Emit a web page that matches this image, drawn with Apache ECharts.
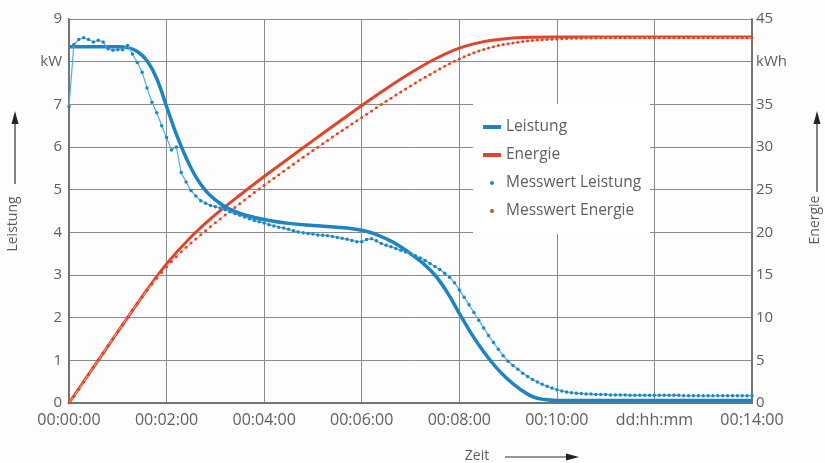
<!DOCTYPE html>
<html>
<head>
<meta charset="utf-8">
<script src="https://cdn.jsdelivr.net/npm/echarts@6/dist/echarts.min.js"></script>
<style>
html,body{margin:0;padding:0;background:#fdfdfd;}
#c{width:825px;height:463px;}
</style>
</head>
<body>
<div id="c"></div>
<script>
// ---- tick labels ----
const xTickLabels = ['00:00:00','00:02:00','00:04:00','00:06:00','00:08:00','00:10:00','dd:hh:mm','00:14:00'];
const leftTickLabels = ['0','1','2','3','4','5','6','7','kW','9'];
const rightTickLabels = ['0','5','10','15','20','25','30','35','kWh','45'];

// ---- series names ----
const seriesNames = ['Leistung','Energie','Messwert Leistung','Messwert Energie'];

// ---- model curve: Leistung (kW) ----
const powerTime = [0,0.5,1.0,1.2,1.4,1.6,1.8,2.0,2.2,2.4,2.6,2.8,3.0,3.2,3.4,3.6,3.8,4.0,4.5,5.0,5.5,6.0,6.25,6.5,6.75,7.0,7.25,7.5,7.75,8.0,8.25,8.5,8.75,9.0,9.25,9.5,9.75,10,11,12,13,14];
const powerModel = [8.35,8.35,8.35,8.33,8.24,8.02,7.6,6.95,6.3,5.75,5.3,4.98,4.76,4.6,4.49,4.41,4.35,4.3,4.21,4.16,4.12,4.05,3.97,3.85,3.7,3.5,3.28,3.0,2.6,2.1,1.62,1.2,0.84,0.55,0.32,0.15,0.08,0.06,0.06,0.06,0.06,0.06];

// ---- model curve: Energie (kWh) ----
const energyTime = [0,0.5,1,1.5,2,2.5,3,3.5,4,4.5,5,5.5,6,6.5,7,7.5,8,8.5,9,9.5,10,11,12,13,14];
const energyModel = [0,4.18,8.35,12.48,16.3,19.45,22.07,24.35,26.54,28.66,30.75,32.82,34.86,36.83,38.67,40.31,41.59,42.35,42.72,42.85,42.88,42.9,42.9,42.9,42.9];

// ---- measured samples (every 0.1 h) ----
const measStep = 0.1;
const measPower = [
6.95,8.40,8.52,8.56,8.52,8.46,8.50,8.46,8.30,8.27,
8.28,8.28,8.38,8.18,7.98,7.75,7.38,7.05,6.80,6.50,
6.22,5.93,6.00,5.40,5.18,4.98,4.85,4.74,4.68,4.63,
4.60,4.57,4.53,4.48,4.44,4.40,4.36,4.32,4.28,4.25,
4.22,4.18,4.15,4.12,4.10,4.07,4.04,4.01,3.99,3.97,
3.96,3.94,3.93,3.92,3.90,3.88,3.86,3.84,3.81,3.78,
3.78,3.83,3.85,3.80,3.74,3.70,3.66,3.62,3.58,3.54,
3.50,3.45,3.40,3.34,3.27,3.20,3.13,3.04,2.95,2.82,
2.65,2.48,2.30,2.12,1.94,1.76,1.58,1.42,1.26,1.11,
0.98,0.88,0.79,0.70,0.62,0.55,0.49,0.44,0.39,0.35,
0.31,0.28,0.26,0.24,0.23,0.22,0.21,0.21,0.20,0.20,
0.20,0.19,0.19,0.19,0.19,0.18,0.18,0.18,0.18,0.18,
0.18,0.18,0.18,0.18,0.18,0.18,0.17,0.17,0.17,0.17,
0.17,0.17,0.17,0.17,0.17,0.17,0.17,0.17,0.17,0.17,
0.17];
const measEnergy = [
0,0.77,1.62,2.47,3.33,4.18,5.03,5.87,6.71,7.54,
8.37,9.20,10.03,10.86,11.67,12.46,13.22,13.94,14.63,15.30,
15.93,16.54,17.14,17.71,18.24,18.74,19.23,19.71,20.18,20.65,
21.11,21.57,22.02,22.47,22.92,23.36,23.80,24.23,24.66,25.09,
25.51,25.93,26.35,26.76,27.17,27.58,27.99,28.39,28.79,29.19,
29.59,29.98,30.37,30.77,31.16,31.55,31.93,32.32,32.70,33.08,
33.46,33.84,34.22,34.61,34.98,35.35,35.72,36.09,36.45,36.80,
37.15,37.50,37.84,38.18,38.51,38.83,39.15,39.46,39.76,40.05,
40.32,40.58,40.82,41.04,41.24,41.43,41.59,41.74,41.88,42.00,
42.10,42.19,42.28,42.35,42.42,42.48,42.53,42.57,42.61,42.64,
42.67,42.69,42.71,42.73,42.74,42.75,42.76,42.77,42.78,42.79,
42.79,42.79,42.80,42.80,42.80,42.80,42.80,42.80,42.80,42.80,
42.80,42.80,42.80,42.80,42.80,42.80,42.80,42.80,42.80,42.80,
42.80,42.80,42.80,42.80,42.80,42.80,42.80,42.80,42.80,42.80,
42.80];

const zip = (xs, ys) => ys.map((v, i) => [xs[i], v]);
const measPairs = arr => arr.map((v, i) => [Math.round(i * measStep * 10) / 10, v]);

const FONT = 'Open Sans';
const TXT = '#5e5e5e';
const GRIDC = '#8a8a8a';
const AXISC = '#747474';

const chart = echarts.init(document.getElementById('c'), null, {renderer: 'canvas'});
chart.setOption({
  animation: false,
  backgroundColor: '#fdfdfd',
  textStyle: {fontFamily: FONT},
  grid: {left: 69, right: 73, top: 19, bottom: 60, containLabel: false},
  legend: {
    orient: 'vertical',
    left: 473, top: 104,
    padding: [14, 9, 14, 10],
    itemGap: 10,
    itemWidth: 18, itemHeight: 4,
    backgroundColor: '#ffffff',
    textStyle: {fontFamily: FONT, fontSize: 15.5, color: TXT, lineHeight: 18},
    data: [
      {name: seriesNames[0], icon: 'rect'},
      {name: seriesNames[1], icon: 'rect'},
      {name: seriesNames[2], icon: 'circle'},
      {name: seriesNames[3], icon: 'circle'}
    ]
  },
  xAxis: {
    type: 'value', min: 0, max: 14, interval: 2,
    axisLine: {show: true, lineStyle: {color: AXISC, width: 2}},
    axisTick: {show: false},
    splitLine: {show: true, lineStyle: {color: GRIDC, width: 1}},
    axisLabel: {
      fontFamily: FONT, fontSize: 16, color: TXT, margin: 9,
      formatter: v => xTickLabels[Math.round(v / 2)]
    }
  },
  yAxis: [
    {
      type: 'value', min: 0, max: 9, interval: 1, position: 'left',
      axisLine: {show: true, lineStyle: {color: AXISC, width: 2}},
      axisTick: {show: false},
      splitLine: {show: true, lineStyle: {color: GRIDC, width: 1}},
      axisLabel: {fontFamily: FONT, fontSize: 15, color: TXT, margin: 7,
        formatter: v => leftTickLabels[Math.round(v)]}
    },
    {
      type: 'value', min: 0, max: 45, interval: 5, position: 'right',
      axisLine: {show: true, lineStyle: {color: AXISC, width: 2}},
      axisTick: {show: false},
      splitLine: {show: false},
      axisLabel: {fontFamily: FONT, fontSize: 15, color: TXT, margin: 4,
        formatter: v => rightTickLabels[Math.round(v / 5)]}
    }
  ],
  series: [
    {
      name: seriesNames[1], type: 'line', yAxisIndex: 1,
      data: zip(energyTime, energyModel),
      smooth: 0.3, showSymbol: false, symbol: 'none',
      color: '#e0442b',
      lineStyle: {color: '#e0442b', width: 3},
      z: 2
    },
    {
      name: seriesNames[3], type: 'line', yAxisIndex: 1,
      data: measPairs(measEnergy),
      symbol: 'circle', symbolSize: 3, showSymbol: true,
      color: '#d9472b',
      itemStyle: {color: '#d9472b'},
      lineStyle: {color: '#f3ab92', width: 1},
      z: 3
    },
    {
      name: seriesNames[0], type: 'line', yAxisIndex: 0,
      data: zip(powerTime, powerModel),
      smooth: 0.4, showSymbol: false, symbol: 'none',
      color: '#1c84c3',
      lineStyle: {color: '#1c84c3', width: 3.5},
      z: 4
    },
    {
      name: seriesNames[2], type: 'line', yAxisIndex: 0,
      data: measPairs(measPower),
      symbol: 'circle', symbolSize: 3.5, showSymbol: true,
      color: '#1f86c2',
      itemStyle: {color: '#1f86c2'},
      lineStyle: {color: '#4fb0e0', width: 1.2},
      z: 5
    }
  ],
  graphic: [
    {type: 'text', x: 13, y: 224, rotation: Math.PI / 2,
     style: {text: 'Leistung', fontFamily: FONT, fontSize: 14, fill: TXT, align: 'center', verticalAlign: 'middle'}},
    {type: 'line', shape: {x1: 15, y1: 184, x2: 15, y2: 122}, style: {stroke: '#333', lineWidth: 1.2}},
    {type: 'polygon', shape: {points: [[15, 111], [11.5, 124], [18.5, 124]]}, style: {fill: '#222'}},

    {type: 'text', x: 815, y: 220, rotation: Math.PI / 2,
     style: {text: 'Energie', fontFamily: FONT, fontSize: 14, fill: TXT, align: 'center', verticalAlign: 'middle'}},
    {type: 'line', shape: {x1: 817, y1: 192, x2: 817, y2: 122}, style: {stroke: '#333', lineWidth: 1.2}},
    {type: 'polygon', shape: {points: [[817, 111], [813.5, 124], [820.5, 124]]}, style: {fill: '#222'}},

    {type: 'text', x: 477, y: 456,
     style: {text: 'Zeit', fontFamily: FONT, fontSize: 14, fill: TXT, align: 'center', verticalAlign: 'middle'}},
    {type: 'line', shape: {x1: 505, y1: 457, x2: 568, y2: 457}, style: {stroke: '#333', lineWidth: 1.2}},
    {type: 'polygon', shape: {points: [[579, 457], [566, 453.5], [566, 460.5]]}, style: {fill: '#222'}}
  ]
});
</script>
</body>
</html>
